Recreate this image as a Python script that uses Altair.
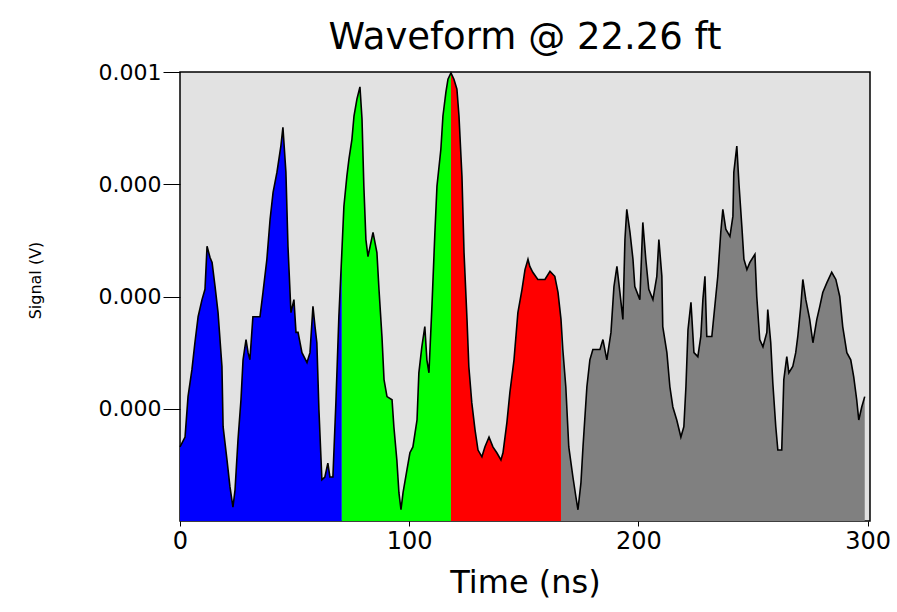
import altair as alt
import pandas as pd

# Time axis (ns) and signal readings (microvolts)
time_ns = [0, 2.2, 3.5, 5.2, 6.5, 7.9, 9.6, 10.9, 11.8, 13.1, 14.0, 15.3, 16.6, 18.3, 18.8, 20.5, 21.8, 23.1, 24.0, 25.3,
           26.6, 27.5, 28.8, 29.7, 30.5, 31.8, 34.9, 36.2, 37.9, 39.3, 40.6, 42.3, 44.0, 44.9, 46.2, 47.1, 48.4, 49.7, 50.6, 51.5,
           53.2, 55.4, 56.7, 58.0, 58.9, 59.7, 60.6, 61.9, 63.2, 64.5, 65.4, 66.7, 68.0, 69.3,
           70.6, 71.5, 72.8, 73.7, 75.0, 75.9, 77.2, 78.5, 79.4, 80.2, 81.1, 82.0, 84.2, 85.9, 86.8, 88.1, 89.0, 90.3, 92.5, 93.3,
           94.6, 95.5, 96.4, 97.3, 99.0, 100.3, 101.6, 103.4, 104.2, 105.5, 106.8, 107.7, 108.6, 109.9, 111.2, 112.1, 113.8, 114.7, 116.0, 116.9,
           118.2, 119.5, 120.8, 121.7, 123.0, 123.9, 125.2, 126.0, 127.3, 128.7, 130.0, 131.7, 133.0, 134.8, 136.5, 138.2, 140.0, 140.9, 142.6, 143.9,
           145.7, 147.4, 149.2, 150.5, 151.8, 152.6, 153.9, 156.1, 159.2, 161.4, 163.5, 164.9,
           166.2, 167.0, 168.3, 169.6, 171.4, 172.7, 173.6, 174.9, 175.8, 177.5, 178.8, 180.1, 183.2, 184.5, 186.2, 188.0, 189.3, 190.6, 191.9, 193.2,
           194.1, 194.9, 196.3, 197.6, 198.4, 200.6, 201.9, 203.2, 204.5, 206.3, 208.0, 208.9, 210.2, 210.6, 212.4, 213.7, 215.0, 216.7, 218.5, 219.8,
           220.7, 221.6, 222.9, 224.2, 225.9, 227.2, 228.1, 229.0, 229.8, 232.0, 233.3, 234.6, 235.9, 236.8, 238.1, 239.9, 241.2, 241.6, 242.9, 243.8,
           245.1, 246.0, 247.3, 248.6, 250.8, 251.6, 252.9, 254.3, 256.0, 256.4, 257.7, 258.6, 259.9, 260.8, 262.5, 263.4, 264.7, 265.6, 267.3, 268.6,
           269.5, 270.8, 271.7, 273.0, 274.7, 276.1, 277.8, 279.1, 280.4, 282.2, 284.3, 286.1, 287.8, 289.1, 290.9, 292.6, 293.9, 295.2, 296.1, 297.4,
           298.7]

signal_uV = [165, 187, 277, 337, 397, 455, 493, 516, 612, 587, 576, 522, 464, 344, 210, 136, 76, 31, 69, 181,
             270, 359, 404, 375, 359, 455, 455, 509, 583, 672, 732, 777, 835, 877, 777, 612, 464, 493, 420, 420,
             375, 353, 375, 478, 433, 397, 248, 92, 98, 129, 98, 98, 263, 455,
             598, 701, 768, 806, 850, 902, 940, 967, 895, 746, 627, 589, 643, 598, 516, 411, 315, 277, 270, 210,
             136, 63, 25, 63, 114, 152, 165, 225, 330, 388, 433, 359, 330, 478, 643, 746, 828, 902, 955, 984,
             998, 984, 962, 902, 768, 598, 449, 344, 263, 203, 158, 143, 165, 187, 165, 152, 136, 152, 219, 286,
             359, 464, 516, 560, 583, 567, 554, 538, 538, 556, 545, 509,
             449, 382, 299, 165, 98, 54, 25, 85, 165, 299, 359, 382, 382, 404, 359, 420, 522, 567, 509, 449,
             627, 694, 643, 583, 522, 493, 665, 583, 516, 493, 545, 627, 545, 433, 375, 299, 254, 225, 187, 210,
             299, 426, 487, 375, 366, 411, 493, 545, 411, 411, 478, 545, 643, 694, 650, 634, 679, 777, 835, 754,
             656, 583, 560, 576, 594, 500, 404, 388, 420, 471, 397, 308, 210, 158, 158, 315, 366, 330, 344, 375,
             411, 478, 538, 493, 449, 397, 449, 478, 509, 531, 554, 538, 500, 433, 375, 359, 321, 270, 225, 254,
             277]

# Coloured time windows
segment_names = ["A", "B", "C", "D"]
segment_edges = [69.8, 117.7, 165.7]
segment_colors = ["#0000ff", "#00ff00", "#ff0000", "#808080"]

y_tick_values = [0.00025, 0.0005, 0.00075, 0.001]
x_tick_values = [0, 100, 200, 300]

signal_V = [v * 1e-6 for v in signal_uV]


def seg_index(t):
    i = 0
    while i < len(segment_edges) and t >= segment_edges[i]:
        i += 1
    return i


seg_ids = [seg_index(t) for t in time_ns]
rows = []
for k, (t, v, s) in enumerate(zip(time_ns, signal_V, seg_ids)):
    rows.append({"t": t, "v": v, "segment": segment_names[s]})
    # share the first point of the next window so the fills meet without a gap
    if k + 1 < len(time_ns) and seg_ids[k + 1] != s:
        rows.append({"t": time_ns[k + 1], "v": signal_V[k + 1], "segment": segment_names[s]})
area_df = pd.DataFrame(rows)
line_df = pd.DataFrame({"t": time_ns, "v": signal_V})

FONT = "DejaVu Sans"

x_axis = alt.Axis(values=x_tick_values, grid=False, domain=False, tickSize=5,
                  tickColor="black", labelFontSize=24, labelColor="black",
                  labelFont=FONT, labelPadding=3, labelFlush=False,
                  titleFont=FONT, titleFontSize=32, titleFontWeight="normal",
                  titleColor="black", titleY=61, titleBaseline="middle")
y_axis = alt.Axis(values=y_tick_values, grid=False, domain=False, tickSize=17,
                  tickColor="black", labelFontSize=22, labelColor="black",
                  labelFont=FONT, labelPadding=2,
                  labelExpr="datum.value >= 0.00099 ? '0.001' : '0.000'",
                  titleFont=FONT, titleFontSize=16, titleFontWeight="normal",
                  titleColor="black", titleX=-145, titleY=208,
                  titleBaseline="middle", titleAlign="center")

x_scale = alt.Scale(domain=[0, 301], nice=False, zero=False)
y_scale = alt.Scale(domain=[0, 0.001], nice=False)

area = alt.Chart(area_df).mark_area(interpolate="linear", opacity=1, strokeWidth=0).encode(
    x=alt.X("t:Q", title="Time (ns)", scale=x_scale, axis=x_axis),
    y=alt.Y("v:Q", title="Signal (V)", stack=None, scale=y_scale, axis=y_axis),
    color=alt.Color("segment:N", scale=alt.Scale(domain=segment_names, range=segment_colors), legend=None),
)

line = alt.Chart(line_df).mark_line(color="black", strokeWidth=1.6, interpolate="linear").encode(
    x=alt.X("t:Q", scale=x_scale),
    y=alt.Y("v:Q", scale=y_scale),
)

chart = alt.layer(area, line).properties(
    width=690,
    height=449,
    title=alt.TitleParams("Waveform @ 22.26 ft", font=FONT, fontSize=37, fontWeight="normal",
                          color="black", anchor="middle", offset=4),
    autosize=alt.AutoSizeParams(type="none"),
    padding={"left": 180, "top": 72, "right": 27, "bottom": 91},
    background="white",
).configure_view(
    fill="#e2e2e2", stroke="black", strokeWidth=1.5
)

chart.save("out.html", embed_options={"renderer": "svg", "actions": False})
